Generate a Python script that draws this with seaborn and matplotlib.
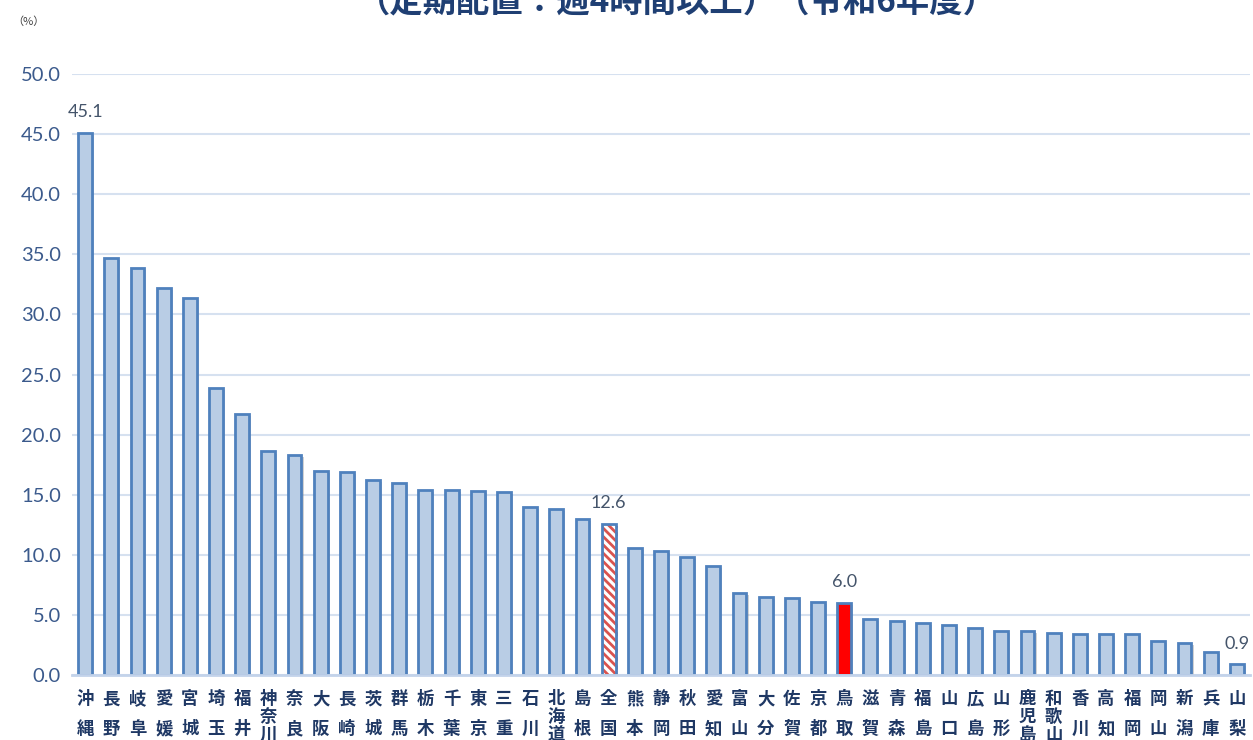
import matplotlib
matplotlib.use("Agg")
import matplotlib.pyplot as plt
import matplotlib.colors as mcolors
import matplotlib.patheffects as pe
import seaborn as sns
import pandas as pd

# 都道府県別の配置率（%）
prefectures = [
    "沖縄", "長野", "岐阜", "愛媛", "宮城", "埼玉", "福井", "神奈川", "奈良", "大阪",
    "長崎", "茨城", "群馬", "栃木", "千葉", "東京", "三重", "石川", "北海道", "島根",
    "全国", "熊本", "静岡", "秋田", "愛知", "富山", "大分", "佐賀", "京都", "鳥取",
    "滋賀", "青森", "福島", "山口", "広島", "山形", "鹿児島", "和歌山", "香川", "高知",
    "福岡", "岡山", "新潟", "兵庫", "山梨",
]
rates = [
    45.1, 34.7, 33.9, 32.2, 31.4, 23.9, 21.7, 18.6, 18.3, 17.0,
    16.9, 16.2, 16.0, 15.4, 15.4, 15.3, 15.2, 14.0, 13.8, 13.0,
    12.6, 10.6, 10.3, 9.8, 9.1, 6.8, 6.5, 6.4, 6.1, 6.0,
    4.7, 4.5, 4.3, 4.2, 3.9, 3.7, 3.7, 3.5, 3.4, 3.4,
    3.4, 2.8, 2.7, 1.9, 0.9,
]
labelled = ["沖縄", "全国", "鳥取", "山梨"]
national = "全国"
home = "鳥取"

title = "（定期配置：週4時間以上）（令和6年度）"
y_ticks = [0, 5, 10, 15, 20, 25, 30, 35, 40, 45, 50]

sns.set_theme(style="white")
plt.rcParams["font.family"] = ["Noto Sans CJK JP", "DejaVu Sans"]
plt.rcParams["hatch.linewidth"] = 2.0

df = pd.DataFrame({"pref": prefectures, "rate": rates})

W, H = 1253, 740
fig = plt.figure(figsize=(W / 100, H / 100), dpi=100)
ax = fig.add_axes([72 / W, 1 - 675 / H, (1250 - 72) / W, (675 - 74) / H])

bar_fill = "#B9CDE5"
bar_edge = "#4F81BD"
sns.barplot(data=df, x="pref", y="rate", color=bar_fill, width=0.53,
            edgecolor=bar_edge, linewidth=2, saturation=1, ax=ax, zorder=3)

shadow = [pe.SimplePatchShadow(offset=(1.5, -1.5), shadow_rgbFace="#7f7f7f", alpha=0.35),
          pe.Normal()]
for name, patch in zip(prefectures, ax.patches):
    patch.set_path_effects(shadow)
    if name == national:
        patch.set_facecolor("white")
        patch.set_hatch("\\\\\\\\")
        patch._hatch_color = mcolors.to_rgba("#D9534F")
    elif name == home:
        patch.set_facecolor("#FF0000")

# value labels
for name, val, patch in zip(prefectures, rates, ax.patches):
    if name in labelled:
        ax.annotate(f"{val:.1f}", (patch.get_x() + patch.get_width() / 2, val),
                    xytext=(0, 9), textcoords="offset points", ha="center",
                    va="bottom", fontsize=13, color="#44546A", family="Lato")

ax.set_ylim(0, 50)
ax.set_xlim(-0.5, len(prefectures) - 0.5)
ax.set_yticks(y_ticks)
ax.set_yticklabels([f"{t:.1f}" for t in y_ticks], family="Lato", fontsize=14.5,
                   color="#3B5A8C")
ax.set_xticks(range(len(prefectures)))
ax.set_xticklabels(["\n".join(p) for p in prefectures], fontsize=12.5,
                   fontweight="bold", color="#1F3864", va="top")
# two-character names are spread apart, longer names stack tightly
for lbl in ax.get_xticklabels():
    n = len(lbl.get_text().split("\n"))
    lbl.set_linespacing(1.85 if n == 2 else 1.0)
ax.tick_params(axis="x", length=0, pad=11)
ax.tick_params(axis="y", length=0, pad=8)
ax.set_xlabel("")
ax.set_ylabel("")

ax.yaxis.grid(True, color="#D6E1F0", linewidth=1.5, zorder=0)
ax.set_axisbelow(True)
for s in ["top", "right", "left"]:
    ax.spines[s].set_visible(False)
ax.spines["bottom"].set_color("#C3D3EA")
ax.spines["bottom"].set_linewidth(2)
ax.spines["bottom"].set_zorder(4)

fig.text(677 / W, 1 - 3 / H, title, ha="center", va="center", fontsize=24,
         fontweight="bold", color="#1F3F73")
fig.text(12 / W, 1 - 22 / H, "（%）", ha="left", va="center", fontsize=8,
         color="#404040")

fig.savefig("out.png", dpi=100)
